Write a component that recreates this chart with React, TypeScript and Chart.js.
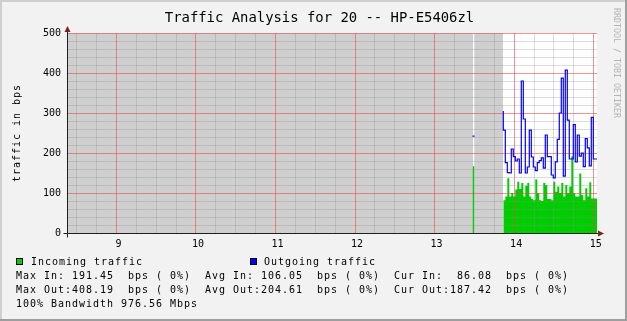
import React, { useEffect, useRef } from 'react';
import { Chart, registerables } from 'chart.js';

Chart.register(...registerables);

const W = 627;
const H = 321;

const chartTitle = 'Traffic Analysis for 20 -- HP-E5406zl';
const yAxisTitle = 'traffic in bps';
const watermark = 'RRDTOOL / TOBI OETIKER';

const yTickValues = [0, 100, 200, 300, 400, 500];
const xTickHours = [9, 10, 11, 12, 13, 14, 15];
const xMin = 8.385;
const xMax = 15.048;
const yMax = 500;

// isolated known sample inside the unknown region
const isoStart = 13.483;
const isoEnd = 13.508;
const isoIn = 167;
const isoOut = 242;

// continuous data (one value per step)
const startHour = 13.87;
const stepHours = 0.02514;
const incoming = [82, 82, 91, 137, 91, 100, 91, 109, 128, 110, 125, 91, 118, 125, 91, 85, 82, 134, 100, 82, 80, 125, 120, 85, 85, 82, 128, 103, 116, 100, 125, 91, 120, 100, 116, 191, 100, 91, 91, 149, 95, 82, 112, 91, 127, 86, 86];
const outgoing = [305, 257, 176, 151, 150, 210, 191, 180, 185, 150, 380, 285, 150, 165, 257, 190, 165, 156, 176, 181, 188, 162, 245, 191, 191, 145, 138, 178, 234, 300, 387, 142, 407, 282, 185, 185, 271, 178, 245, 192, 200, 166, 236, 213, 168, 289, 185];

const legendIn = 'Incoming traffic';
const legendOut = 'Outgoing traffic';
const statLines = [
  'Max In: 191.45  bps ( 0%)  Avg In: 106.05  bps ( 0%)  Cur In:  86.08  bps ( 0%)',
  'Max Out:408.19  bps ( 0%)  Avg Out:204.61  bps ( 0%)  Cur Out:187.42  bps ( 0%)',
  '100% Bandwidth 976.56 Mbps',
];

const GREEN = '#00cc00';
const BLUE = '#0000ff';
const UNKNOWN = '#cfcfcf';
const MAJOR = 'rgba(222,79,79,0.6)';
const MINOR = 'rgba(143,143,143,0.32)';
const MONO = '"DejaVu Sans Mono", monospace';

function buildPoints(iso: number, values: number[]) {
  const pts: { x: number; y: number | null }[] = [
    { x: isoStart, y: iso },
    { x: isoEnd, y: iso },
    { x: (isoEnd + startHour) / 2, y: null },
  ];
  values.forEach((v, i) => pts.push({ x: startHour + i * stepHours, y: v }));
  pts.push({ x: startHour + values.length * stepHours, y: values[values.length - 1] });
  return pts;
}

const xGridMinor: number[] = [];
for (let k = 34; k <= 60; k++) xGridMinor.push(k / 4);
const yGridMinor: number[] = [];
for (let v = 0; v <= 500; v += 20) yGridMinor.push(v);

const rrdPlugin = {
  id: 'rrd',
  beforeDraw(chart: any) {
    const { ctx, chartArea: a, scales } = chart;
    const x = scales.x;
    ctx.save();
    ctx.fillStyle = '#f2f2f2';
    ctx.fillRect(0, 0, W, H);
    ctx.fillStyle = '#cfcfcf';
    ctx.fillRect(0, 0, W, 2);
    ctx.fillRect(0, 0, 2, H);
    ctx.fillStyle = '#9e9e9e';
    ctx.fillRect(0, H - 2, W, 2);
    ctx.fillRect(W - 2, 0, 2, H);
    ctx.fillStyle = '#ffffff';
    ctx.fillRect(a.left, a.top, a.right - a.left, a.bottom - a.top);
    ctx.fillStyle = UNKNOWN;
    const spans = [
      [xMin, isoStart],
      [isoEnd, startHour],
    ];
    for (const [s, e] of spans) {
      const x0 = Math.round(x.getPixelForValue(s));
      const x1 = Math.round(x.getPixelForValue(e));
      ctx.fillRect(x0, a.top, x1 - x0, a.bottom - a.top);
    }
    ctx.restore();
  },
  afterDatasetDraw(chart: any, args: any) {
    // grid over the incoming area, under the outgoing line
    if (args.index !== 1) return;
    const { ctx, chartArea: a, scales } = chart;
    const x = scales.x;
    const y = scales.y;
    ctx.save();
    ctx.lineWidth = 1;
    const lines = (major: boolean) => {
      ctx.strokeStyle = major ? MAJOR : MINOR;
      ctx.beginPath();
      for (const v of xGridMinor) {
        if (Number.isInteger(v) !== major) continue;
        const px = Math.round(x.getPixelForValue(v)) + 0.5;
        ctx.moveTo(px, a.top);
        ctx.lineTo(px, a.bottom);
      }
      for (const v of yGridMinor) {
        if ((v % 100 === 0) !== major) continue;
        const py = Math.round(y.getPixelForValue(v)) + 0.5;
        ctx.moveTo(a.left, py);
        ctx.lineTo(a.right, py);
      }
      ctx.stroke();
    };
    lines(false);
    lines(true);
    ctx.restore();
  },
  afterDraw(chart: any) {
    const { ctx, chartArea: a, scales } = chart;
    const x = scales.x;
    const y = scales.y;
    ctx.save();
    // axes
    ctx.strokeStyle = '#1f1f1f';
    ctx.lineWidth = 1;
    const ax = Math.round(a.left) + 0.5;
    const ay = Math.round(a.bottom) + 0.5;
    ctx.beginPath();
    ctx.moveTo(ax, ay + 4);
    ctx.lineTo(ax, a.top - 4);
    ctx.moveTo(ax - 4, ay);
    ctx.lineTo(a.right + 4, ay);
    ctx.stroke();
    // arrows
    ctx.fillStyle = '#801f1f';
    ctx.beginPath();
    ctx.moveTo(ax - 3, a.top - 1);
    ctx.lineTo(ax + 3, a.top - 1);
    ctx.lineTo(ax, a.top - 7);
    ctx.closePath();
    ctx.fill();
    ctx.beginPath();
    ctx.moveTo(a.right + 1, ay - 3);
    ctx.lineTo(a.right + 1, ay + 3);
    ctx.lineTo(a.right + 7, ay);
    ctx.closePath();
    ctx.fill();

    ctx.fillStyle = '#000000';
    // y tick labels
    ctx.font = `10px ${MONO}`;
    ctx.textAlign = 'right';
    ctx.textBaseline = 'middle';
    for (const v of yTickValues) ctx.fillText(String(v), a.left - 6, y.getPixelForValue(v) + 0.5);
    // x tick labels
    ctx.textAlign = 'center';
    for (const h of xTickHours) ctx.fillText(String(h), x.getPixelForValue(h) + 2.5, 244.5);

    // title
    ctx.font = `13.9px ${MONO}`;
    ctx.textAlign = 'center';
    ctx.textBaseline = 'alphabetic';
    ctx.fillText(chartTitle, W / 2 + 6, 22);

    // y axis title
    ctx.save();
    ctx.font = `10px ${MONO}`;
    (ctx as any).letterSpacing = '0.98px';
    ctx.translate(17, (a.top + a.bottom) / 2);
    ctx.rotate(-Math.PI / 2);
    ctx.textAlign = 'center';
    ctx.textBaseline = 'middle';
    ctx.fillText(yAxisTitle, 0, 0);
    ctx.restore();

    // watermark
    ctx.save();
    ctx.font = `8.3px ${MONO}`;
    ctx.fillStyle = '#b4b4b4';
    ctx.translate(616.5, 8);
    ctx.rotate(Math.PI / 2);
    ctx.textAlign = 'left';
    ctx.textBaseline = 'middle';
    ctx.fillText(watermark, 0, 0);
    ctx.restore();

    // legend
    ctx.font = `10px ${MONO}`;
    (ctx as any).letterSpacing = '0.98px';
    ctx.textAlign = 'left';
    ctx.textBaseline = 'alphabetic';
    const box = (bx: number, color: string) => {
      ctx.fillStyle = color;
      ctx.fillRect(bx, 258, 7, 7);
      ctx.strokeStyle = '#000000';
      ctx.strokeRect(bx + 0.5, 258.5, 6, 6);
    };
    box(16, GREEN);
    box(250, BLUE);
    ctx.fillStyle = '#000000';
    ctx.fillText(legendIn, 31, 265);
    ctx.fillText(legendOut, 264, 265);
    statLines.forEach((s, i) => ctx.fillText(s, 16, 279 + i * 14));
    ctx.restore();
  },
};

export default function App() {
  const ref = useRef<HTMLCanvasElement | null>(null);
  useEffect(() => {
    document.body.style.margin = '0';
    const canvas = ref.current;
    if (!canvas) return;
    const chart = new Chart(canvas, {
      type: 'line',
      data: {
        datasets: [
          {
            label: legendOut,
            data: buildPoints(isoOut, outgoing) as any,
            borderColor: BLUE,
            borderWidth: 1.2,
            fill: false,
            stepped: 'after',
            pointRadius: 0,
            spanGaps: false,
            order: 1,
          },
          {
            label: legendIn,
            data: buildPoints(isoIn, incoming) as any,
            borderWidth: 0,
            borderColor: GREEN,
            backgroundColor: GREEN,
            fill: 'origin',
            stepped: 'after',
            pointRadius: 0,
            spanGaps: false,
            order: 2,
          },
        ],
      },
      options: {
        animation: false,
        responsive: false,
        devicePixelRatio: 1,
        events: [],
        layout: { padding: { left: 67, top: 33, right: 30, bottom: 88 } },
        plugins: { legend: { display: false }, tooltip: { enabled: false }, title: { display: false } },
        scales: {
          x: {
            type: 'linear',
            min: xMin,
            max: xMax,
            border: { display: false },
            ticks: { display: false },
            grid: { display: false, drawTicks: false },
          },
          y: {
            type: 'linear',
            min: 0,
            max: yMax,
            border: { display: false },
            ticks: { display: false },
            grid: { display: false, drawTicks: false },
          },
        },
      },
      plugins: [rrdPlugin],
    });
    return () => chart.destroy();
  }, []);
  return <canvas ref={ref} width={W} height={H} style={{ display: 'block', width: W, height: H }} />;
}
